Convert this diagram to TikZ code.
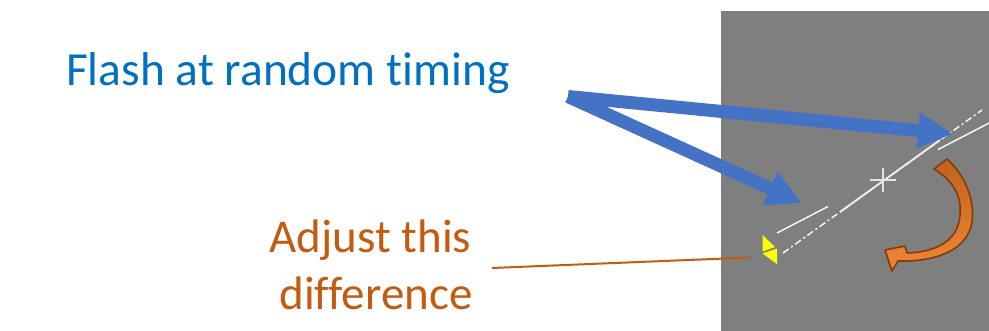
\documentclass[tikz,border=0pt]{standalone}
\usepackage{fontspec}
\setmainfont{Carlito}[Ligatures=NoCommon]
\usetikzlibrary{arrows.meta}
\definecolor{flashblue}{HTML}{0070C0}
\definecolor{arrowblue}{HTML}{4472C4}
\definecolor{noteorange}{HTML}{C55A11}
\definecolor{panelgray}{HTML}{7F7F7F}
\definecolor{curvedark}{HTML}{C0621E}
\definecolor{curvelight}{HTML}{F08636}
\definecolor{curveedge}{HTML}{843C0C}
\definecolor{marker}{HTML}{FFFF00}
\begin{document}
\begin{tikzpicture}[x=1pt,y=-1pt,
  pointer/.style={draw=arrowblue, line width=13pt, line cap=butt,
    -{Triangle[length=35pt,width=34pt]}},
  leader/.style={draw=noteorange, line width=2pt},
  guide/.style={draw=white, line width=1.4pt},
  axisline/.style={draw=white, line width=1.4pt,
    dash pattern=on 7pt off 3pt on 2pt off 3pt},
  crosshair/.style={draw=white!80!gray, line width=1.2pt},
  flag/.style={fill=marker, draw=none},
  turn/.style={draw=curveedge, line width=1.6pt, line join=round,
    top color=curvedark, bottom color=curvelight},
  label/.style={inner sep=0pt, outer sep=0pt}]
\useasboundingbox (0,0) rectangle (989,331);

% gray viewing panel
\fill[panelgray] (721,11) rectangle (989,331);

% captions
\node[label, anchor=base west, text=flashblue,
  font=\fontsize{47.5}{57}\selectfont] (flash) at (66,86) {Flash at random timing};
\node[label, anchor=base, text=noteorange, align=center,
  font=\fontsize{47}{58}\selectfont] (adjust) at (376,310)
  {Adjust this\kern0.23em\\difference};

% reference line with a gap, and the rotating dash-dot line
\begin{scope}
  \clip (721,11) rectangle (989,331);
  \coordinate (g1) at (777,233);
  \coordinate (g2) at (828,206.5);
  \coordinate (g3) at (938,149.5);
  \coordinate (g4) at (995,120);
  \draw[guide] (g1) -- (g2);
  \draw[guide] (g3) -- (g4);
  \coordinate (d1) at (783,253);
  \coordinate (d2) at (982,110);
  \draw[axisline] (d1) -- (d2);
  \coordinate (f1) at (840,212);
  \coordinate (f2) at (940,140);
  \draw[draw=white!88!gray, line width=1.8pt] (f1) -- (f2);
\end{scope}

% centre mark
\coordinate (ctr) at (883,180);
\draw[crosshair] ([xshift=-13pt]ctr) -- ([xshift=13pt]ctr);
\draw[crosshair] ([yshift=-12pt]ctr) -- ([yshift=12pt]ctr);

% yellow marker
\fill[flag] (762.5,235) -- (775,247) -- (762.5,251.5) -- cycle;
\fill[flag] (762.5,253.5) -- (777,248.5) -- (777,264) -- cycle;

% leader from the caption to the marker
\coordinate (lead0) at (492,268);
\coordinate (lead1) at (750,257.5);
\draw[leader] (lead0) -- (lead1);

% flash arrows
\coordinate (src) at (568,96.5);
\coordinate (tipA) at (953,134);
\coordinate (tipB) at (802,203);
\draw[pointer] (src) -- (tipA);
\draw[pointer] (src) -- (tipB);

% curved rotation arrow
\path[turn] (947,159) .. controls (965,175) and (975,200) .. (972,222)
  .. controls (968,248) and (940,262) .. (898,261)
  -- (892,271) -- (885,250) -- (905,246) -- (907,253)
  .. controls (935,252) and (958,242) .. (960,215)
  .. controls (962,195) and (952,180) .. (934,169) -- cycle;
\end{tikzpicture}
\end{document}
